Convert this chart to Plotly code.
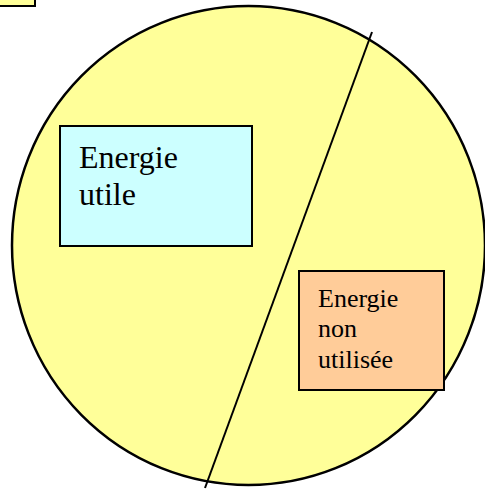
import plotly.graph_objects as go

# Diagram content
labels = ["Energie<br>utile", "Energie<br>non<br>utilisée"]
box_colors = ["#CCFFFF", "#FFCC99"]
circle_color = "#FFFF99"

W, H = 485, 489

fig = go.Figure()
fig.add_trace(go.Scatter(x=[0, W], y=[0, H], mode="markers", marker=dict(opacity=0), hoverinfo="skip", showlegend=False))

shapes = []
# small box at top left
shapes.append(dict(type="rect", x0=-5, y0=-5, x1=35, y1=6, fillcolor=circle_color,
                   line=dict(color="black", width=2)))
# big circle
shapes.append(dict(type="circle", x0=12, y0=6, x1=485, y1=485, fillcolor=circle_color,
                   line=dict(color="black", width=2.5)))
# dividing line
shapes.append(dict(type="line", x0=372, y0=32, x1=205, y1=488, line=dict(color="black", width=2)))
# boxes
shapes.append(dict(type="rect", x0=60, y0=126, x1=252, y1=246, fillcolor=box_colors[0],
                   line=dict(color="black", width=2)))
shapes.append(dict(type="rect", x0=299, y0=271, x1=444, y1=390, fillcolor=box_colors[1],
                   line=dict(color="black", width=2)))

# text placement (one annotation per line to control line spacing)
text_specs = [
    dict(x=77, y0=156.7, dy=37.7, size=32),
    dict(x=316, y0=298.1, dy=30.7, size=26),
]
annotations = []
for label, spec in zip(labels, text_specs):
    for i, line in enumerate(label.split("<br>")):
        annotations.append(dict(
            x=spec["x"], y=spec["y0"] + i * spec["dy"], text=line, showarrow=False,
            xanchor="left", yanchor="middle", align="left",
            font=dict(family="Liberation Serif", size=spec["size"], color="black")))

fig.update_layout(
    width=W, height=H, margin=dict(l=0, r=0, t=0, b=0),
    paper_bgcolor="white", plot_bgcolor="white",
    xaxis=dict(range=[0, W], visible=False, fixedrange=True),
    yaxis=dict(range=[H, 0], visible=False, fixedrange=True),
    shapes=shapes, annotations=annotations, showlegend=False,
)

fig.write_html("out.html", config={"displayModeBar": False, "staticPlot": True},
               post_script="document.body.style.margin='0';")
